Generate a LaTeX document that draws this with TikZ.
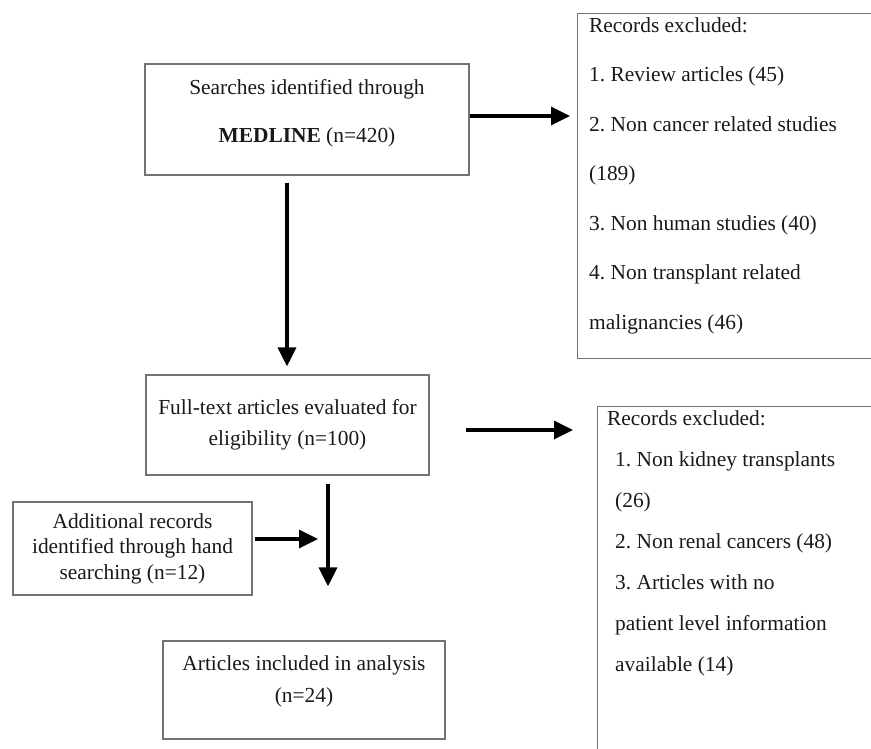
\documentclass[tikz,border=0pt]{standalone}
\usepackage{fontspec}
\setmainfont{Liberation Serif}
\usetikzlibrary{arrows.meta,positioning}
\frenchspacing

\begin{document}
\begin{tikzpicture}[
x=1pt,y=-1pt,
every node/.style={font=\fontsize{21.4}{25.5}\selectfont,text=black!90},
box/.style={draw=black!55,line width=1.2pt,align=center,inner sep=0pt},
sidebox/.style={draw=black!55,line width=1.2pt,anchor=north west,minimum width=400pt},
listtext/.style={anchor=north west,align=left,inner sep=0pt},
flow/.style={line width=3.4pt,-{Triangle[length=19pt,width=18pt]}}
]
\useasboundingbox (0,0) rectangle (871,748);
\clip (0,0) rectangle (871,748);

% left column
\node[box,minimum width=324pt,minimum height=111pt,font=\fontsize{21.4}{48}\selectfont] (search) at (307,119.5)
    {Searches identified through\\\textbf{MEDLINE} (n=420)\rule[-17pt]{0pt}{17pt}};
\node[box,minimum width=283pt,minimum height=100pt,font=\fontsize{21.4}{31}\selectfont] (fulltext) at (287.5,425)
    {Full-text articles evaluated for\\eligibility (n=100)};
\node[box,minimum width=239pt,minimum height=93pt] (hand) at (132.5,548.5)
    {Additional records\\identified through hand\\searching (n=12)};
\node[box,minimum width=282pt,minimum height=98pt,font=\fontsize{21.4}{32}\selectfont] (included) at (304,690)
    {Articles included in analysis\\(n=24)\rule[-22pt]{0pt}{22pt}};

% exclusion boxes
\node[sidebox,minimum height=345pt] (excl1) at (577,13) {};
\node[listtext,font=\fontsize{21.4}{49.5}\selectfont] (excl1 list) at ([shift={(12pt,-4.4pt)}]excl1.north west)
    {Records excluded:\\1. Review articles (45)\\2. Non cancer related studies\\(189)\\3. Non human studies (40)\\4. Non transplant related\\malignancies (46)};
\node[sidebox,minimum height=400pt] (excl2) at (597,406) {};
\node[listtext,font=\fontsize{21.4}{41}\selectfont] (excl2 list) at ([shift={(10pt,-4.4pt)}]excl2.north west)
    {Records excluded:\\\hspace*{8pt}1. Non kidney transplants\\\hspace*{8pt}(26)\\\hspace*{8pt}2. Non renal cancers (48)\\\hspace*{8pt}3. Articles with no\\\hspace*{8pt}patient level information\\\hspace*{8pt}available (14)};

% connectors
\coordinate (s1) at ([yshift=3.5pt]search.east);
\coordinate (d1) at ([xshift=-20pt]search.south);
\coordinate (f1) at ([yshift=-5pt]fulltext.east);
\coordinate (d2) at ([xshift=40.5pt]fulltext.south);
\coordinate (h1) at ([yshift=9.5pt]hand.east);
\draw[flow,shorten >=7pt] (s1) -- (s1 -| excl1.west);
\draw[flow,shorten <=7pt,shorten >=8pt] (d1) -- (d1 |- fulltext.north);
\draw[flow,shorten <=36pt,shorten >=24pt] (f1) -- (f1 -| excl2.west);
\draw[flow,shorten <=8pt,shorten >=54pt] (d2) -- (d2 |- included.north);
\draw[flow,shorten <=2pt,shorten >=10pt] (h1) -- (h1 -| d2);
\end{tikzpicture}
\end{document}
